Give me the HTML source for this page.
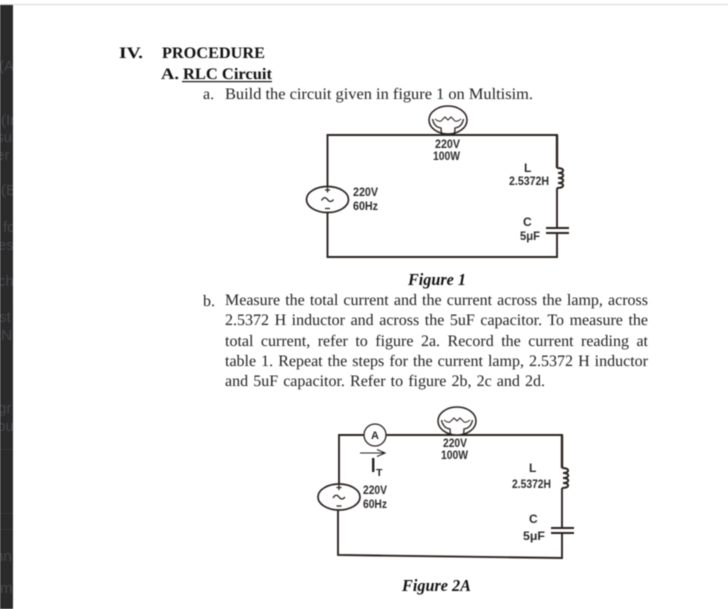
<!DOCTYPE html>
<html><head><meta charset="utf-8">
<style>
html,body{margin:0;padding:0;background:#fff;width:728px;height:609px;overflow:hidden}
#wrap{position:absolute;left:0;top:0;width:728px;height:609px;filter:blur(0.55px);overflow:hidden}
svg{display:block;position:absolute;left:0;top:0}
.t{font-family:"Liberation Serif",serif;font-size:16px;fill:#222;text-rendering:geometricPrecision}
.b{font-weight:bold;fill:#111}
.j{position:absolute;left:225px;width:423px;height:20px;line-height:20px;font-family:"Liberation Serif",serif;font-size:16px;color:#222;text-align:justify;text-align-last:justify;white-space:normal;text-rendering:geometricPrecision}
.f{font-family:"Liberation Serif",serif;font-size:16.5px;font-weight:bold;font-style:italic;fill:#111}
.s{font-family:"Liberation Sans",sans-serif;font-size:12px;font-weight:bold;fill:#2b2b2b}
.w{fill:none;stroke:#2a2320;stroke-width:1.9}
.w2{fill:none;stroke:#2a2320;stroke-width:1.3}
.side{font-family:"Liberation Sans",sans-serif;font-size:15px;fill:#44474c}
</style></head><body>
<div id="wrap">
<svg width="728" height="609" viewBox="0 0 728 609" xmlns="http://www.w3.org/2000/svg">
<defs>
<clipPath id="band"><rect x="0" y="5" width="13" height="604"/></clipPath>
<g id="bulb" class="w2">
<ellipse cx="0" cy="0" rx="19" ry="14" stroke-width="1.5" fill="#fff"/>
<path d="M-15.5 -1 Q-14 7 -7 8 L-6.5 15 M15.5 -1 Q14 7 7 8 L6.5 15"/>
<path d="M-13 -1 Q-8 3 -6 0 l3 -3 l3 3 l3 -3 l3 3 Q8 3 13 -1" stroke-width="1"/>
</g>
<g id="src" class="w2">
<ellipse cx="0" cy="0" rx="21" ry="13" stroke-width="1.7" fill="#fff"/>
<path d="M-6 1 Q-3 -4 0 0 T6 0"/>
<path d="M-2.5 -9.5 h5 M0 -12 v5 M-2.5 9 h5"/>
</g>
<path id="coil" class="w" d="M0 0 C8 0 8 5 1 5 C8 5 8 10 1 10 C8 10 8 15 1 15 C8 15 8 20 0 20"/>
</defs>
<rect width="728" height="609" fill="#fff"/>
<rect x="0" y="4" width="728" height="1" fill="#d8d8d8"/>
<rect x="0" y="5" width="13" height="604" fill="#2a2a2a"/>
<g clip-path="url(#band)" class="side">
<text x="-1" y="71">(A</text>
<text x="1" y="125">(Ir</text>
<text x="-4" y="142">sul</text>
<text x="-4" y="160">er</text>
<text x="1" y="195">(B</text>
<text x="3" y="232">fo</text>
<text x="-2" y="250">es</text>
<text x="-2" y="286">ch</text>
<text x="-1" y="322">st</text>
<text x="-3" y="340">tN</text>
<text x="-2" y="413">gr</text>
<text x="-3" y="431">ou</text>
<text x="-5" y="561">nn</text>
<text x="0" y="593">m</text>
</g>
<rect x="0" y="449" width="13" height="1" fill="#363636"/>
<rect x="0" y="513" width="13" height="1" fill="#363636"/>
<rect x="0" y="529" width="13" height="1" fill="#363636"/>

<text class="t b" x="119" y="58" textLength="24" lengthAdjust="spacingAndGlyphs">IV.</text>
<text class="t b" x="162" y="58" textLength="103" lengthAdjust="spacingAndGlyphs">PROCEDURE</text>
<text class="t b" x="161" y="79" textLength="18" lengthAdjust="spacingAndGlyphs">A.</text>
<text class="t b" x="183" y="79" textLength="89" lengthAdjust="spacingAndGlyphs">RLC Circuit</text>
<rect x="182" y="81" width="90" height="1.2" fill="#111"/>
<text class="t" x="203" y="99">a.</text>
<text class="t" x="225" y="99" textLength="308" lengthAdjust="spacingAndGlyphs">Build the circuit given in figure 1 on Multisim.</text>

<!-- Figure 1 -->
<path class="w" d="M327.5 187 V135 H557 V168 M557 188 V228 M557 233 V257 H327.5 V212" />
<path class="w" d="M557 135 V168" style="stroke-width:2.4"/>
<use href="#bulb" x="448" y="120"/>
<use href="#src" x="327.5" y="199.5"/>
<use href="#coil" x="557" y="168"/>
<path class="w" d="M546 228 H569 M546 233 H569"/>
<text class="s" x="435" y="148" textLength="25" lengthAdjust="spacingAndGlyphs">220V</text>
<text class="s" x="433" y="160" textLength="27" lengthAdjust="spacingAndGlyphs">100W</text>
<text class="s" x="353" y="196" textLength="25" lengthAdjust="spacingAndGlyphs">220V</text>
<text class="s" x="353" y="210" textLength="25" lengthAdjust="spacingAndGlyphs">60Hz</text>
<text class="s" x="524" y="172">L</text>
<text class="s" x="509" y="185" textLength="40" lengthAdjust="spacingAndGlyphs">2.5372H</text>
<text class="s" x="523" y="226">C</text>
<text class="s" x="520" y="240" textLength="20" lengthAdjust="spacingAndGlyphs">5μF</text>
<text class="f" x="408" y="285" textLength="58" lengthAdjust="spacingAndGlyphs">Figure 1</text>

<text class="t" x="203" y="306">b.</text>

<!-- Figure 2A -->
<path class="w" d="M339 484 V435 H364 M386 435 H562 V468 M562 488 V528 M562 533 V558 L338 555 V510"/>
<path class="w" d="M562 435 V468" style="stroke-width:2.4"/>
<circle class="w2" cx="375" cy="435" r="11" fill="#fff"/>
<text class="s" x="371" y="439" style="font-size:11px">A</text>
<use href="#bulb" x="457" y="421"/>
<use href="#src" x="339" y="497"/>
<use href="#coil" x="562" y="468"/>
<path class="w" d="M551 528 H574 M551 533 H574"/>
<path d="M360 453 H384 M377 449.5 L385 453 L377 456.5" fill="none" stroke="#222" stroke-width="1.1"/>
<rect x="372" y="458" width="2.4" height="14" fill="#222"/>
<text x="376" y="476" style="font-family:'Liberation Sans',sans-serif;font-size:10.5px;font-weight:bold;fill:#222">T</text>
<text class="s" x="443" y="447" textLength="24" lengthAdjust="spacingAndGlyphs">220V</text>
<text class="s" x="441" y="459" textLength="27" lengthAdjust="spacingAndGlyphs">100W</text>
<text class="s" x="363" y="494" textLength="24" lengthAdjust="spacingAndGlyphs">220V</text>
<text class="s" x="363" y="508" textLength="24" lengthAdjust="spacingAndGlyphs">60Hz</text>
<text class="s" x="529" y="472">L</text>
<text class="s" x="512" y="488" textLength="39" lengthAdjust="spacingAndGlyphs">2.5372H</text>
<text class="s" x="529" y="523">C</text>
<text class="s" x="523" y="540" textLength="22" lengthAdjust="spacingAndGlyphs">5μF</text>
<text class="f" x="402" y="591" textLength="69" lengthAdjust="spacingAndGlyphs">Figure 2A</text>
</svg>
<div class="j" style="top:290.6px">Measure the total current and the current across the lamp, across</div>
<div class="j" style="top:310.6px">2.5372 H inductor and across the 5uF capacitor. To measure the</div>
<div class="j" style="top:331.6px">total current, refer to figure 2a. Record the current reading at</div>
<div class="j" style="top:351.6px">table 1. Repeat the steps for the current lamp, 2.5372 H inductor</div>
<div class="j" style="top:371.6px;width:320px">and 5uF capacitor. Refer to figure 2b, 2c and 2d.</div>
</div>
</body></html>
